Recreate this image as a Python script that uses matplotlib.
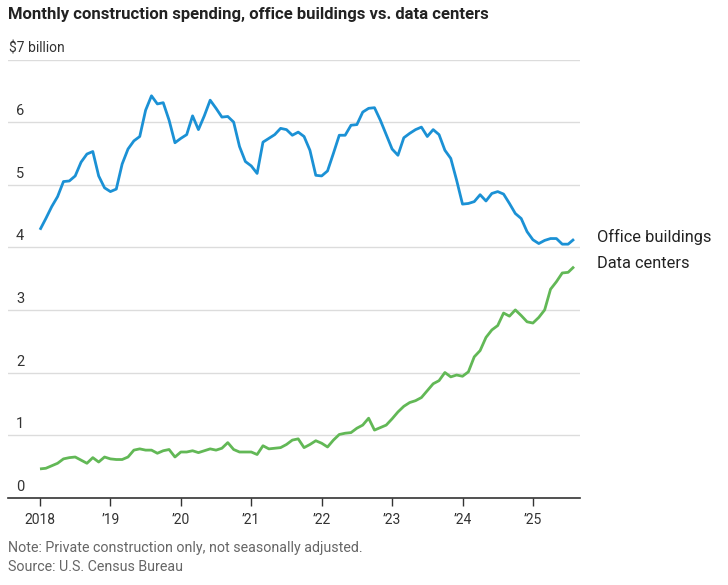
import matplotlib
matplotlib.use("Agg")
import matplotlib.pyplot as plt
import matplotlib.transforms as mtransforms

plt.rcParams['font.family'] = ['Roboto', 'DejaVu Sans']

# monthly values, Jan 2018 .. Aug 2025, $ billion
office = [4.28, 4.46, 4.65, 4.81, 5.05, 5.06, 5.14, 5.36, 5.49, 5.53, 5.14, 4.95,
          4.89, 4.93, 5.33, 5.57, 5.70, 5.77, 6.19, 6.42, 6.29, 6.31, 6.03, 5.67,
          5.74, 5.80, 6.10, 5.88, 6.10, 6.35, 6.22, 6.08, 6.09, 6.00, 5.61, 5.37,
          5.30, 5.18, 5.68, 5.74, 5.80, 5.90, 5.88, 5.79, 5.84, 5.77, 5.55, 5.15,
          5.14, 5.22, 5.50, 5.79, 5.79, 5.95, 5.96, 6.16, 6.22, 6.23, 6.03, 5.80,
          5.57, 5.47, 5.75, 5.82, 5.88, 5.92, 5.77, 5.88, 5.80, 5.55, 5.42, 5.07,
          4.69, 4.70, 4.73, 4.84, 4.74, 4.86, 4.89, 4.85, 4.70, 4.54, 4.46, 4.25,
          4.12, 4.06, 4.11, 4.14, 4.14, 4.05, 4.05, 4.13]
data_centers = [0.46, 0.47, 0.51, 0.55, 0.62, 0.64, 0.65, 0.60, 0.55, 0.64, 0.57, 0.65,
                0.62, 0.61, 0.61, 0.65, 0.76, 0.78, 0.76, 0.76, 0.71, 0.75, 0.77, 0.65,
                0.73, 0.73, 0.75, 0.72, 0.75, 0.78, 0.76, 0.79, 0.88, 0.77, 0.73, 0.73,
                0.73, 0.69, 0.83, 0.78, 0.79, 0.80, 0.85, 0.92, 0.94, 0.80, 0.85, 0.91,
                0.87, 0.81, 0.92, 1.01, 1.03, 1.04, 1.11, 1.16, 1.27, 1.08, 1.12, 1.16,
                1.26, 1.37, 1.46, 1.52, 1.55, 1.60, 1.71, 1.82, 1.87, 2.00, 1.93, 1.96,
                1.94, 2.01, 2.25, 2.35, 2.56, 2.68, 2.75, 2.95, 2.90, 3.00, 2.91, 2.81,
                2.79, 2.88, 3.00, 3.33, 3.45, 3.59, 3.60, 3.69]
year_labels = ["2018", "\u201919", "\u201920", "\u201921", "\u201922", "\u201923", "\u201924", "\u201925"]
y_values = [0, 1, 2, 3, 4, 5, 6]

blue = "#1b91d5"
green = "#62b856"
grid_c = "#dcdcdc"
text_c = "#333333"

fig = plt.figure(figsize=(7.28, 5.85), dpi=100)
W, H = 728, 585
ax = fig.add_axes([8 / W, (H - 497.7) / H, 572 / W, (497.7 - 59.5) / H])

months = list(range(len(office)))
ax.plot(months, office, color=blue, lw=2.0, solid_joinstyle='round', solid_capstyle='butt', zorder=3)
ax.plot(months, data_centers, color=green, lw=2.0, solid_joinstyle='round', solid_capstyle='butt', zorder=3)

ax.set_xlim(-32 / 5.87, 91 + 6 / 5.87)
ax.set_ylim(0, 7)

for v in y_values[1:] + [7]:
    ax.axhline(v, color=grid_c, lw=1, zorder=1)

for s in ["top", "right", "left"]:
    ax.spines[s].set_visible(False)
ax.spines["bottom"].set_color(text_c)
ax.spines["bottom"].set_linewidth(1.2)

ax.set_xticks(range(0, 96, 12))
ax.set_xticklabels(year_labels)
ax.tick_params(axis='x', direction='out', length=6, width=1, color=text_c,
               labelsize=10, labelcolor=text_c, pad=5)
ax.set_yticks([])

# y labels sitting above the gridlines
trans = mtransforms.blended_transform_factory(ax.transAxes, ax.transData)
off = mtransforms.offset_copy(trans, fig=fig, x=0, y=4, units='dots')
for v in y_values:
    ax.text(8 / 572, v, str(v), transform=off, ha='left', va='bottom',
            fontsize=10.5, color=text_c)
ax.text(1 / 572, 7, "$7 billion", transform=off, ha='left', va='bottom',
        fontsize=10, color=text_c)

# series labels at right
fig.text(597 / W, 1 - 237 / H, "Office buildings", ha='left', va='center', fontsize=11.8, color="#222222")
fig.text(597 / W, 1 - 264 / H, "Data centers", ha='left', va='center', fontsize=11.8, color="#222222")

fig.text(8 / W, 1 - 15 / H, "Monthly construction spending, office buildings vs. data centers",
         ha='left', va='center', fontsize=12, fontweight='bold', color="#222222")

fig.text(8 / W, 1 - 548 / H, "Note: Private construction only, not seasonally adjusted.",
         ha='left', va='center', fontsize=10.3, color="#666666")
fig.text(8 / W, 1 - 567 / H, "Source: U.S. Census Bureau",
         ha='left', va='center', fontsize=10.3, color="#666666")

fig.savefig("out.png", dpi=100)
